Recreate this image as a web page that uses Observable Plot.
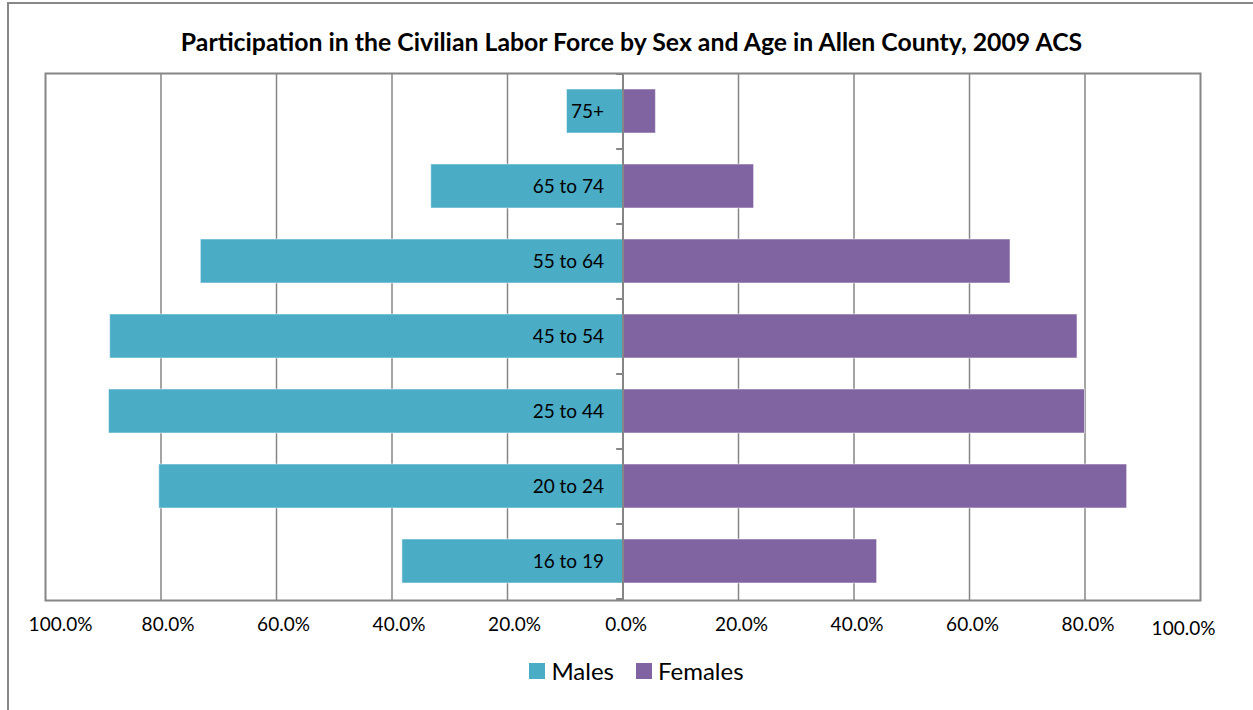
<!DOCTYPE html>
<html>
<head>
<meta charset="utf-8">
<script src="https://cdn.jsdelivr.net/npm/d3@7"></script>
<script src="https://cdn.jsdelivr.net/npm/@observablehq/plot@0.6"></script>
<style>
  html, body { margin: 0; padding: 0; background: #fff; }
  body { width: 1253px; height: 710px; position: relative; overflow: hidden; font-family: Lato, "Open Sans", sans-serif; }
  #frame { position: absolute; left: 7px; top: 2px; width: 1300px; height: 760px; border-top: 2px solid #888; border-left: 2px solid #888; }
  #title { position: absolute; left: 0; width: 1263px; top: 27px; text-align: center; font-weight: bold; font-size: 24.8px; color: #000; }
  #chart { position: absolute; left: 0; top: 60px; }
  #legend { position: absolute; left: 0; width: 1273px; top: 656px; display: flex; justify-content: center; align-items: center; font-size: 24px; color: #000; }
  .key { display: inline-flex; align-items: center; margin: 0 11px; }
  .sw { width: 16px; height: 16px; margin-right: 6px; display: inline-block; }
</style>
</head>
<body>
<div id="frame"></div>
<div id="title">Participation in the Civilian Labor Force by Sex and Age in Allen County, 2009 ACS</div>
<div id="chart"></div>
<div id="legend"></div>
<script>
// Data
const categories = ["75+", "65 to 74", "55 to 64", "45 to 54", "25 to 44", "20 to 24", "16 to 19"];
const males   = [9.7, 33.2, 73.1, 88.8, 89.0, 80.3, 38.2];
const females = [5.7, 22.7, 67.1, 78.7, 80.0, 87.3, 44.0];
const seriesNames = ["Males", "Females"];
const seriesColors = ["#4BACC6", "#8064A2"];
const xTicksLeft = [-80, -60, -40, -20];
const xTicksRight = [0, 20, 40, 60, 80];
const xTicks = xTicksLeft.concat(xTicksRight);
const xEnds = [-100, 100];

const rows = [];
categories.forEach((c, i) => {
  rows.push({age: c, sex: "Males", value: -males[i]});
  rows.push({age: c, sex: "Females", value: females[i]});
});

const fmt = d => Math.abs(d).toFixed(1) + "%";
const font = "Lato, 'Open Sans', sans-serif";

function make(step) {
  return Plot.plot({
    width: 1253,
    height: 590,
    marginTop: 13,
    marginBottom: 50,
    marginLeft: 45,
    marginRight: 53,
    style: {fontFamily: font, fontSize: "19px", color: "#000", background: "transparent", overflow: "visible"},
    x: {domain: [-100, 100], label: null},
    y: {domain: categories, paddingInner: 0.41, paddingOuter: 0.205, axis: null},
    color: {domain: seriesNames, range: seriesColors},
    marks: [
      Plot.gridX(xTicks, {stroke: "#868686", strokeOpacity: 1, strokeWidth: 1.5}),
      Plot.barX(rows, {x: "value", y: "age", fill: "sex", stroke: "#ffffff", strokeOpacity: 0.5, strokeWidth: 1}),
      Plot.ruleX([0], {stroke: "#868686", strokeWidth: 2}),
      Plot.ruleY(categories, {y: d => d, x1: -1.1, x2: 0, dy: step / 2, stroke: "#868686", strokeWidth: 2}),
      Plot.ruleY(categories.slice(0, 1), {y: d => d, x1: -1.1, x2: 0, dy: -step / 2, stroke: "#868686", strokeWidth: 2}),
      Plot.text(categories, {x: 0, y: d => d, text: d => d, dx: -19, textAnchor: "end", fontSize: 19, fill: "#000"}),
      Plot.frame({stroke: "#868686", strokeWidth: 2}),
      Plot.axisX(xTicksLeft, {tickSize: 0, tickPadding: 17, tickFormat: fmt, fontSize: 19, dx: 7, label: null}),
      Plot.axisX(xTicksRight, {tickSize: 0, tickPadding: 17, tickFormat: fmt, fontSize: 19, dx: 3, label: null}),
      Plot.axisX(xEnds.slice(0, 1), {tickSize: 0, tickPadding: 17, tickFormat: fmt, fontSize: 19, dx: 15, label: null}),
      Plot.axisX(xEnds.slice(1), {tickSize: 0, tickPadding: 21, tickFormat: fmt, fontSize: 19, dx: -17, label: null})
    ]
  });
}

const first = make(0);
const step = first.scale("y").step;
const chart = make(step);
document.getElementById("chart").appendChild(chart);

const legend = document.getElementById("legend");
seriesNames.forEach((name, i) => {
  const k = document.createElement("span");
  k.className = "key";
  const sw = document.createElement("span");
  sw.className = "sw";
  sw.style.background = seriesColors[i];
  k.appendChild(sw);
  k.appendChild(document.createTextNode(name));
  legend.appendChild(k);
});
</script>
</body>
</html>
